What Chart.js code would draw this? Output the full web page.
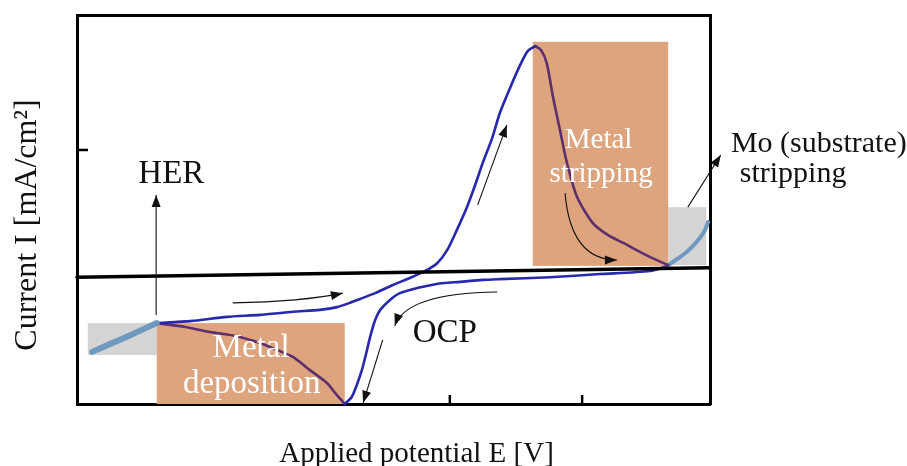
<!DOCTYPE html>
<html>
<head>
<meta charset="utf-8">
<script src="https://cdn.jsdelivr.net/npm/chart.js@4/dist/chart.umd.min.js"></script>
<style>
  body { margin: 0; background: #fff; }
</style>
</head>
<body>
<canvas id="cv" width="907" height="466"></canvas>
<script>
// schematic CV, both axes in arbitrary units (0-100 across the frame)

// HER tail (light blue)
const herE = [2.4, 5.2, 8.4, 12.6];
const herI = [13.4, 15.4, 17.7, 20.8];

// anodic sweep up to the stripping peak (blue)
const fwdE = [12.6, 17.9, 23.7, 28.9, 34.1, 38.4, 41.1, 43.1, 44.7, 47.1, 49.9, 52.6, 55.0, 56.9, 58.5, 60.0, 61.6, 62.9, 64.1, 65.6, 66.8, 68.4, 70.0, 71.2, 72.4];
const fwdI = [20.8, 21.3, 22.4, 22.9, 23.7, 24.2, 24.9, 26.0, 27.0, 28.5, 30.6, 32.4, 34.2, 36.2, 39.6, 44.7, 50.6, 56.3, 62.0, 68.4, 74.8, 81.2, 87.1, 90.7, 92.0];

// stripping peak decay (inside the orange box)
const stripE = [72.4, 73.3, 74.2, 75.2, 76.3, 77.4, 79.0, 81.5, 83.9, 86.3, 90.5, 93.4];
const stripI = [92.0, 91.0, 87.7, 78.9, 70.4, 62.0, 53.2, 46.5, 43.4, 41.4, 37.8, 35.7];

// Mo substrate stripping (light blue)
const moE = [93.4, 95.3, 96.8, 98.4, 99.2, 99.7];
const moI = [35.7, 37.8, 39.8, 42.7, 44.7, 46.8];

// cathodic return sweep (blue)
const revE = [93.4, 90.5, 82.6, 74.7, 66.8, 64.1, 60.5, 58.1, 56.6, 53.7, 51.0, 49.4, 47.9, 47.1, 46.3, 45.7, 45.0, 44.2, 43.4, 42.3];
const revI = [35.5, 34.2, 33.4, 32.6, 32.1, 31.9, 31.4, 31.1, 30.8, 29.8, 28.5, 26.7, 24.2, 21.6, 17.2, 13.1, 8.7, 4.9, 1.8, 0.0];

// metal deposition wave (inside the orange box)
const depE = [42.3, 40.8, 39.5, 36.8, 34.1, 31.3, 28.9, 25.0, 21.0, 17.1, 12.6];
const depI = [0.0, 2.8, 5.4, 8.7, 12.1, 14.1, 15.7, 17.5, 18.5, 19.8, 20.8];

// zero-current guide line
const baseE = [0, 100];
const baseI = [32.6, 35.0];

// unlabeled tick marks
const xTickMarks = [20.2, 58.9, 79.8];
const yTickMarks = [65.3];

// shaded regions [E0, E1, I0, I1]
const depositionBox = [12.6, 42.3, 0.0, 20.8];
const strippingBox = [72.0, 93.4, 35.5, 93.1];
const herBox = [1.7, 12.6, 12.6, 20.8];
const moBox = [93.4, 99.4, 35.7, 50.6];

const xy = (E, I) => E.map((e, i) => ({ x: e, y: I[i] }));

const BLUE = '#2828ac';
const PURPLE = '#5d2f6c';
const LIGHT = '#7099c0';
const ORANGE = '#dea47e';
const GREY = '#d4d4d4';
const SERIF = '"Liberation Serif", "DejaVu Serif", serif';

function line(data, color, width) {
    return {
        data: data,
        showLine: true,
        borderColor: color,
        borderWidth: width,
        pointRadius: 0,
        tension: 0.25,
        borderCapStyle: 'round',
        borderJoinStyle: 'round',
        fill: false
    };
}

function drawArrow(ctx, p) {
    ctx.beginPath();
    ctx.moveTo(p[0].x, p[0].y);
    let prev = p[0];
    if (p.length === 3) {
        ctx.quadraticCurveTo(p[1].x, p[1].y, p[2].x, p[2].y);
        prev = p[1];
    } else {
        ctx.lineTo(p[1].x, p[1].y);
    }
    ctx.stroke();
    const end = p[p.length - 1];
    const a = Math.atan2(end.y - prev.y, end.x - prev.x);
    const L = 12, W = 4.5;
    ctx.beginPath();
    ctx.moveTo(end.x, end.y);
    ctx.lineTo(end.x - L * Math.cos(a) + W * Math.sin(a), end.y - L * Math.sin(a) - W * Math.cos(a));
    ctx.lineTo(end.x - L * Math.cos(a) - W * Math.sin(a), end.y - L * Math.sin(a) + W * Math.cos(a));
    ctx.closePath();
    ctx.fill();
}

// arrows in data units: start, [control], end
const arrows = [
    [[12.5, 22.9], [12.5, 53.7]],
    [[24.6, 26.0], [35.5, 26.3], [42.0, 28.5]],
    [[63.3, 51.2], [67.9, 71.7]],
    [[77.1, 54.2], [78.0, 37.0], [85.3, 37.0]],
    [[96.5, 50.6], [101.7, 64.0]],
    [[66.4, 28.8], [52.0, 28.5], [50.2, 20.1]],
    [[48.3, 16.5], [45.2, 0.3]]
];

// in-plot labels: text, E, I, align, colour, size
const notes = [
    ['HER', 14.9, 56.8, 'center', '#111', 33],
    ['OCP', 58.1, 15.9, 'center', '#111', 33],
    ['Metal', 82.4, 65.8, 'center', '#fff', 29],
    ['stripping', 82.8, 57.1, 'center', '#fff', 29],
    ['Metal', 27.5, 12.1, 'center', '#fff', 33],
    ['deposition', 27.6, 2.8, 'center', '#fff', 33],
    ['Mo (substrate)', 103.3, 64.8, 'left', '#111', 30],
    ['stripping', 104.7, 57.1, 'left', '#111', 30]
];

const decor = {
    id: 'decor',
    beforeDatasetsDraw(chart) {
        const { ctx, scales: { x, y }, chartArea: ca } = chart;
        ctx.save();
        // tick marks pointing into the frame
        ctx.strokeStyle = '#000';
        ctx.lineWidth = 2.5;
        xTickMarks.forEach(v => {
            const px = x.getPixelForValue(v);
            ctx.beginPath(); ctx.moveTo(px, ca.bottom); ctx.lineTo(px, ca.bottom - 9); ctx.stroke();
        });
        yTickMarks.forEach(v => {
            const py = y.getPixelForValue(v);
            ctx.beginPath(); ctx.moveTo(ca.left, py); ctx.lineTo(ca.left + 11, py); ctx.stroke();
        });
        const box = (b, c) => {
            const x0 = x.getPixelForValue(b[0]), x1 = x.getPixelForValue(b[1]);
            const y0 = y.getPixelForValue(b[2]), y1 = y.getPixelForValue(b[3]);
            ctx.fillStyle = c;
            ctx.fillRect(x0, y1, x1 - x0, y0 - y1);
        };
        box(herBox, GREY);
        box(moBox, GREY);
        box(depositionBox, ORANGE);
        box(strippingBox, ORANGE);
        ctx.restore();
    },
    afterDatasetsDraw(chart) {
        const { ctx, scales: { x, y }, chartArea: ca } = chart;
        ctx.save();
        ctx.strokeStyle = '#111';
        ctx.fillStyle = '#111';
        ctx.lineWidth = 1.1;
        arrows.forEach(a => drawArrow(ctx, a.map(p => ({ x: x.getPixelForValue(p[0]), y: y.getPixelForValue(p[1]) }))));

        ctx.textBaseline = 'alphabetic';
        notes.forEach(n => {
            ctx.font = n[5] + 'px ' + SERIF;
            ctx.fillStyle = n[4];
            ctx.textAlign = n[3];
            ctx.fillText(n[0], x.getPixelForValue(n[1]), y.getPixelForValue(n[2]));
        });

        // axis titles
        ctx.fillStyle = '#111';
        ctx.textAlign = 'center';
        ctx.font = '29px ' + SERIF;
        ctx.fillText('Applied potential E [V]', (ca.left + ca.right) / 2 + 23, 462);
        ctx.font = '32px ' + SERIF;
        ctx.translate(36, 225);
        ctx.rotate(-Math.PI / 2);
        ctx.fillText('Current I [mA/cm²]', 0, 0);
        ctx.restore();
    }
};

const axis = (pos, show) => ({
    type: 'linear',
    position: pos,
    min: 0,
    max: 100,
    display: true,
    grid: { display: false, drawTicks: false },
    ticks: { display: false },
    border: { display: show, color: '#000', width: 3 }
});

new Chart(document.getElementById('cv'), {
    type: 'scatter',
    data: {
        datasets: [
            line(xy(baseE, baseI), '#000', 3.5),
            line(xy(herE, herI), LIGHT, 6),
            line(xy(fwdE, fwdI), BLUE, 2.6),
            line(xy(stripE, stripI), PURPLE, 2.6),
            line(xy(moE, moI), LIGHT, 4),
            line(xy(revE, revI), BLUE, 2.6),
            line(xy(depE, depI), PURPLE, 2.6)
        ]
    },
    options: {
        responsive: false,
        animation: false,
        layout: { padding: { left: 77, right: 197, top: 15, bottom: 62 } },
        plugins: { legend: { display: false }, tooltip: { enabled: false } },
        scales: {
            x: axis('bottom', true),
            y: axis('left', true),
            x2: axis('top', true),
            y2: axis('right', true)
        },
        clip: false
    },
    plugins: [decor]
});
</script>
</body>
</html>
